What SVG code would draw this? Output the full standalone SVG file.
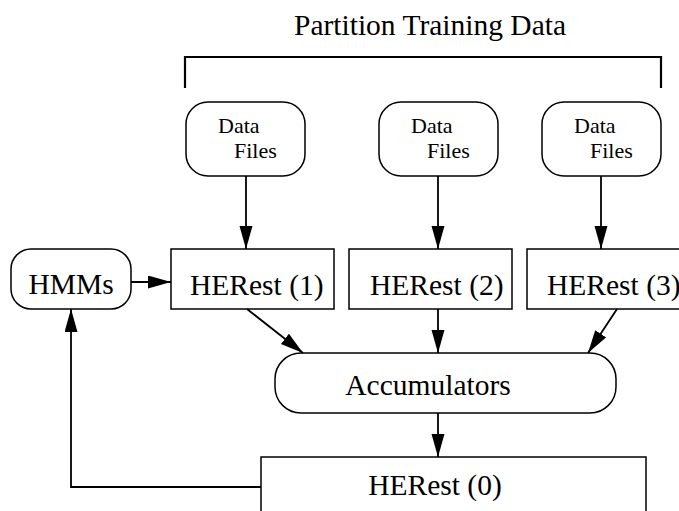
<svg xmlns="http://www.w3.org/2000/svg" width="679" height="511" viewBox="0 0 679 511">
<defs>
<style>
.box{fill:#fff;stroke:#000;stroke-width:1.5}
.t{font-family:"Liberation Serif","Times New Roman",serif;fill:#000}
.big{font-size:29.5px}
.small{font-size:22px}
.c{stroke:#000;stroke-width:1.8;fill:none}
</style>
<marker id="ah" markerUnits="userSpaceOnUse" markerWidth="24" markerHeight="14" refX="23" refY="6.5" orient="auto">
<path d="M0,0 L23,6.5 L0,13 Z" fill="#000"/>
</marker>
</defs>
<rect width="679" height="511" fill="#fff"/>
<g id="title">
<text class="t big" x="430" y="35" text-anchor="middle">Partition Training Data</text>
<path d="M185,88 V57 H661 V88" stroke="#000" stroke-width="2.2" fill="none"/>
</g>
<g id="data1">
<rect class="box" x="186" y="102" width="119" height="74" rx="22" ry="22"/>
<text class="t small" x="218" y="133">Data</text>
<text class="t small" x="234" y="158">Files</text>
</g>
<g id="data2">
<rect class="box" x="379" y="102" width="119" height="74" rx="22" ry="22"/>
<text class="t small" x="411" y="133">Data</text>
<text class="t small" x="427" y="158">Files</text>
</g>
<g id="data3">
<rect class="box" x="542" y="102" width="119" height="74" rx="22" ry="22"/>
<text class="t small" x="574" y="133">Data</text>
<text class="t small" x="590" y="158">Files</text>
</g>
<g id="hmms">
<rect class="box" x="11" y="249" width="120" height="60" rx="20" ry="20"/>
<text class="t big" x="71" y="294" text-anchor="middle">HMMs</text>
</g>
<g id="herest1">
<rect class="box" x="171" y="249" width="163" height="60"/>
<text class="t big" x="190" y="295">HERest (1)</text>
</g>
<g id="herest2">
<rect class="box" x="349" y="249" width="163" height="60"/>
<text class="t big" x="370" y="295">HERest (2)</text>
</g>
<g id="herest3">
<rect class="box" x="527" y="249" width="163" height="60"/>
<text class="t big" x="547" y="295">HERest (3)</text>
</g>
<g id="accumulators">
<rect class="box" x="275" y="353" width="341" height="60" rx="26" ry="26"/>
<text class="t big" x="428" y="395" text-anchor="middle">Accumulators</text>
</g>
<g id="herest0">
<rect class="box" x="261" y="457" width="385" height="70"/>
<text class="t big" x="435" y="495" text-anchor="middle">HERest (0)</text>
</g>
<g id="connectors">
<line class="c" x1="246" y1="176" x2="246" y2="249" marker-end="url(#ah)"/>
<line class="c" x1="438" y1="176" x2="438" y2="249" marker-end="url(#ah)"/>
<line class="c" x1="601" y1="176" x2="601" y2="249" marker-end="url(#ah)"/>
<line class="c" x1="131" y1="282" x2="171" y2="282" marker-end="url(#ah)"/>
<line class="c" x1="247" y1="309" x2="303" y2="353" marker-end="url(#ah)"/>
<line class="c" x1="438" y1="309" x2="438" y2="353" marker-end="url(#ah)"/>
<line class="c" x1="617" y1="309" x2="588" y2="353" marker-end="url(#ah)"/>
<line class="c" x1="438" y1="413" x2="438" y2="457" marker-end="url(#ah)"/>
<polyline class="c" points="261,487 71,487 71,309" marker-end="url(#ah)"/>
</g>
</svg>
